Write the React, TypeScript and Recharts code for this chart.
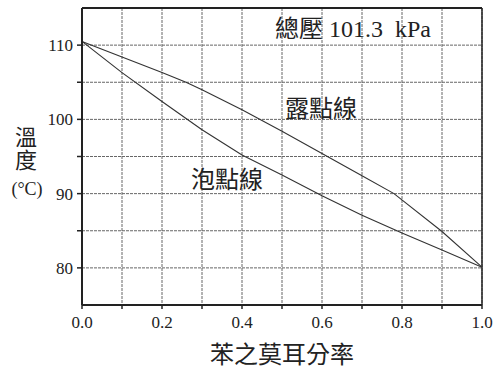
import { LineChart, Line, XAxis, YAxis, CartesianGrid, ReferenceLine, ReferenceDot } from 'recharts';

const xTicks = [0, 0.1, 0.2, 0.3, 0.4, 0.5, 0.6, 0.7, 0.8, 0.9, 1.0];
const yTicks = [75, 80, 85, 90, 95, 100, 105, 110, 115];

const bubbleX = [0, 0.1, 0.2, 0.3, 0.4, 0.5, 0.6, 0.7, 0.8, 0.9, 1.0];
const bubbleT = [110.5, 106.3, 102.4, 98.6, 95.2, 92.5, 89.7, 87.1, 84.7, 82.4, 80.1];

const dewX = [0, 0.1, 0.2, 0.26, 0.3, 0.4, 0.5, 0.6, 0.7, 0.78, 0.9, 1.0];
const dewT = [110.5, 108.4, 106.3, 105.0, 104.0, 101.3, 98.4, 95.4, 92.4, 90.0, 84.9, 80.1];

const bubbleData = bubbleX.map((x, i) => ({ x, t: bubbleT[i] }));
const dewData = dewX.map((x, i) => ({ x, t: dewT[i] }));

const FONT = "'Liberation Serif', 'Times New Roman', 'Noto Sans CJK TC', serif";
const INK = '#222';

function YTick(props: any) {
  const { x, y, payload } = props;
  const v = payload.value;
  if (v === 75 || v === 115) return null;
  const major = v % 10 === 0;
  return (
    <g>
      <line x1={x - 5} x2={x} y1={y} y2={y} stroke={INK} strokeWidth={1.5} />
      {major && (
        <text x={x - 9} y={y} dy="0.35em" textAnchor="end" fontSize={17} style={{ fontFamily: FONT }} fill={INK}>
          {v}
        </text>
      )}
    </g>
  );
}

function XTick(props: any) {
  const { x, y, payload } = props;
  const v = payload.value;
  const major = Math.round(v * 10) % 2 === 0;
  return (
    <g>
      <line x1={x} x2={x} y1={y} y2={y + 4} stroke={INK} strokeWidth={1.5} />
      {major && (
        <text x={x} y={y + 23} textAnchor="middle" fontSize={17} style={{ fontFamily: FONT }} fill={INK}>
          {v.toFixed(1)}
        </text>
      )}
    </g>
  );
}

function YLabel() {
  return (
    <g style={{ fontFamily: FONT }} fill={INK} textAnchor="middle">
      <text x={26} y={137} dy="0.35em" fontSize={22}>溫</text>
      <text x={26} y={160} dy="0.35em" fontSize={22}>度</text>
      <text x={27} y={189} dy="0.35em" fontSize={18}>(°C)</text>
    </g>
  );
}

export default function App() {
  return (
    <div style={{ position: 'absolute', left: 0, top: 0, background: '#fff', width: 496, height: 369 }}>
      <LineChart
        width={496}
        height={369}
        margin={{ top: 8, right: 14, bottom: 0, left: 0 }}
        style={{ overflow: 'visible' }}
      >
        <CartesianGrid stroke="#666" strokeDasharray="3 1" strokeWidth={1} />
        <XAxis
          type="number"
          dataKey="x"
          domain={[0, 1]}
          ticks={xTicks}
          interval={0}
          height={64}
          tickSize={0}
          tickMargin={0}
          tick={<XTick />}
          axisLine={{ stroke: INK, strokeWidth: 2 }}
          tickLine={false}
          allowDuplicatedCategory={false}
          label={{ value: '苯之莫耳分率', position: 'insideBottom', offset: 6, fontSize: 24, fontFamily: FONT, fill: INK }}
        />
        <YAxis
          type="number"
          domain={[75, 115]}
          ticks={yTicks}
          interval={0}
          width={82}
          tickSize={0}
          tickMargin={0}
          tick={<YTick />}
          axisLine={{ stroke: INK, strokeWidth: 2 }}
          tickLine={false}
          label={{ content: () => <YLabel /> }}
        />
        <ReferenceLine y={115} stroke={INK} strokeWidth={2} />
        <ReferenceLine x={1} stroke={INK} strokeWidth={1.5} />
        <Line data={dewData} dataKey="t" type="linear" stroke="#333" strokeWidth={1.1} dot={false} isAnimationActive={false} />
        <Line data={bubbleData} dataKey="t" type="linear" stroke="#333" strokeWidth={1.1} dot={false} isAnimationActive={false} />
        <ReferenceDot
          x={0.6775}
          y={112.3}
          r={0}
          label={{ value: '總壓 101.3\u00a0 kPa', position: 'center', fontSize: 24, fontFamily: FONT, fill: INK }}
        />
        <ReferenceDot
          x={0.5975}
          y={101.5}
          r={0}
          label={{ value: '露點線', position: 'center', fontSize: 24, fontFamily: FONT, fill: INK }}
        />
        <ReferenceDot
          x={0.3625}
          y={91.9}
          r={0}
          label={{ value: '泡點線', position: 'center', fontSize: 24, fontFamily: FONT, fill: INK }}
        />
      </LineChart>
    </div>
  );
}
